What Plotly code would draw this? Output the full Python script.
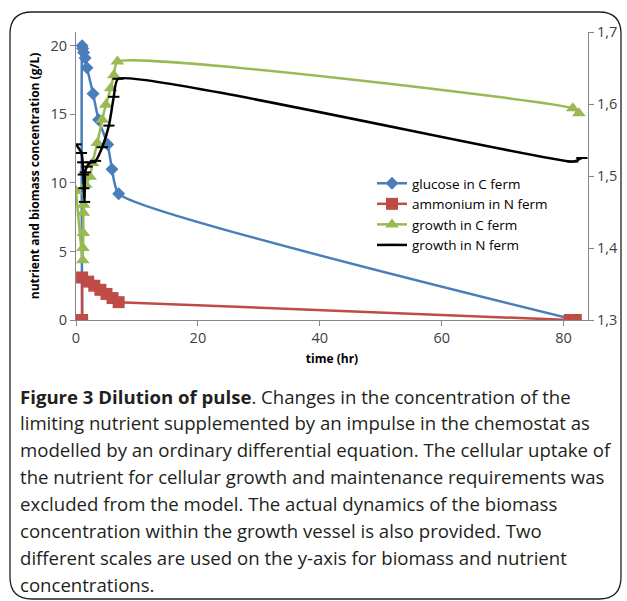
import plotly.graph_objects as go

# ---------------- data ----------------
glucose_time = [1.0, 1.0, 1.1, 1.25, 1.5, 1.8, 2.8, 3.7, 5.2, 5.9, 7.0, 82.0]
glucose_conc = [0.0, 20.0, 19.8, 19.5, 19.1, 18.4, 16.5, 14.6, 12.8, 11.0, 9.2, 0.0]

ammonium_time = [0.0, 1.0, 1.0, 2.0, 3.0, 4.0, 5.0, 6.0, 7.0, 81.0, 82.0]
ammonium_conc = [0.0, 0.0, 3.1, 2.8, 2.5, 2.2, 1.9, 1.6, 1.3, 0.0, 0.0]

growthC_time = [0.0, 1.1, 1.15, 1.2, 1.2, 1.25, 1.6, 2.3, 2.7, 3.5, 4.3, 4.9, 5.7, 6.2, 6.8, 81.5, 82.5]
growthC_val = [1.479, 1.383, 1.40, 1.421, 1.449, 1.460, 1.488, 1.499, 1.518, 1.546, 1.578, 1.599, 1.622, 1.640, 1.659, 1.594, 1.587]

growthN_time = [0.0, 0.9, 1.1, 1.2, 1.3, 1.4, 1.5, 1.8, 2.4, 3.2, 4.3, 5.4, 6.2, 6.9, 81.5, 83.0]
growthN_val = [1.544, 1.532, 1.519, 1.502, 1.483, 1.464, 1.505, 1.513, 1.519, 1.521, 1.540, 1.570, 1.610, 1.635, 1.520, 1.525]

series_names = ["glucose in C ferm", "ammonium in N ferm", "growth in C ferm", "growth in N ferm"]

x_ticks = [0, 20, 40, 60, 80]
y_ticks = [0, 5, 10, 15, 20]
y2_ticks = [1.3, 1.4, 1.5, 1.6, 1.7]

caption_lines = [
    "<b>Figure 3 Dilution of pulse</b>. Changes in the concentration of the",
    "limiting nutrient supplemented by an impulse in the chemostat as",
    "modelled by an ordinary differential equation. The cellular uptake of",
    "the nutrient for cellular growth and maintenance requirements was",
    "excluded from the model. The actual dynamics of the biomass",
    "concentration within the growth vessel is also provided. Two",
    "different scales are used on the y-axis for biomass and nutrient",
    "concentrations.",
]

# ---------------- figure ----------------
W, H = 627, 601
L, R, T, B = 76, 39, 32, 281
PW, PH = W - L - R, H - T - B

def px_x(px):
    return (px - L) / PW

def px_y(py):
    return (H - B - py) / PH

BLUE = "#4A7EBB"
RED = "#BE4B48"
GREEN = "#98B954"
BLACK = "#000000"
FONT = "Open Sans"

fig = go.Figure()
fig.add_trace(go.Scatter(
    x=glucose_time, y=glucose_conc, name=series_names[0], mode="lines+markers",
    line=dict(color=BLUE, width=2.5, shape="spline", smoothing=0.5),
    marker=dict(symbol="diamond", size=10, color=BLUE),
))
fig.add_trace(go.Scatter(
    x=ammonium_time, y=ammonium_conc, name=series_names[1], mode="lines+markers",
    line=dict(color=RED, width=2.5),
    marker=dict(symbol="square", size=12, color=RED),
))
fig.add_trace(go.Scatter(
    x=growthC_time, y=growthC_val, name=series_names[2], mode="lines+markers", yaxis="y2",
    line=dict(color=GREEN, width=2.5, shape="spline", smoothing=0.5),
    marker=dict(symbol="triangle-up", size=12, color=GREEN),
))
fig.add_trace(go.Scatter(
    x=growthN_time, y=growthN_val, name=series_names[3], mode="lines+markers", yaxis="y2",
    line=dict(color=BLACK, width=2.5, shape="spline", smoothing=0.5),
    marker=dict(symbol="line-ew", size=8, color=BLACK, line=dict(color=BLACK, width=2)),
))

axis_common = dict(
    showline=True, linecolor="#868686", linewidth=1, showgrid=False, zeroline=False,
    ticks="outside", ticklen=5, tickcolor="#868686",
    tickfont=dict(family=FONT, size=14.5, color="#404040"),
)

# rounded border
x0, y0, x1, y1, r = 10, 12, 621, 599, 22
path = (
    f"M {px_x(x0)},{px_y(y0 + r)} L {px_x(x0)},{px_y(y1 - r)} "
    f"Q {px_x(x0)},{px_y(y1)} {px_x(x0 + r)},{px_y(y1)} "
    f"L {px_x(x1 - r)},{px_y(y1)} Q {px_x(x1)},{px_y(y1)} {px_x(x1)},{px_y(y1 - r)} "
    f"L {px_x(x1)},{px_y(y0 + r)} Q {px_x(x1)},{px_y(y0)} {px_x(x1 - r)},{px_y(y0)} "
    f"L {px_x(x0 + r)},{px_y(y0)} Q {px_x(x0)},{px_y(y0)} {px_x(x0)},{px_y(y0 + r)} Z"
)

annotations = []
line_y0, line_dy = 396, 26.9
for i, t in enumerate(caption_lines):
    annotations.append(dict(
        text=t, xref="paper", yref="paper", x=px_x(18), y=px_y(line_y0 + i * line_dy),
        xanchor="left", yanchor="middle", showarrow=False,
        font=dict(family=FONT, size=18.6, color="#231F20"),
    ))

fig.update_layout(
    width=W, height=H,
    margin=dict(l=L, r=R, t=T, b=B, autoexpand=False),
    paper_bgcolor="white", plot_bgcolor="white",
    separators=", ",
    showlegend=True,
    legend=dict(
        x=px_x(372), y=px_y(168), xanchor="left", yanchor="top",
        bgcolor="rgba(0,0,0,0)", font=dict(family=FONT, size=13.5, color="#000000"),
        itemwidth=30, tracegroupgap=0,
    ),
    xaxis=dict(
        range=[0, 84], tickvals=x_ticks, **axis_common,
        title=dict(text="<b>time (hr)</b>", font=dict(family=FONT, size=12, color="#000000"), standoff=8),
    ),
    yaxis=dict(
        range=[0, 21], tickvals=y_ticks, **axis_common,
        title=dict(text="<b>nutrient and biomass concentration (g/L)</b>",
                   font=dict(family=FONT, size=12, color="#000000"), standoff=8),
    ),
    yaxis2=dict(
        range=[1.3, 1.7], tickvals=y2_ticks, tickformat=".1f", overlaying="y", side="right",
        **axis_common,
    ),
    shapes=[dict(type="path", path=path, xref="paper", yref="paper",
                 line=dict(color="#231F20", width=1.3), fillcolor="rgba(0,0,0,0)", layer="below")],
    annotations=annotations,
)

fig.write_html(
    "out.html",
    config={"displayModeBar": False},
    post_script="document.body.style.margin='0';document.body.style.overflow='hidden';",
)
